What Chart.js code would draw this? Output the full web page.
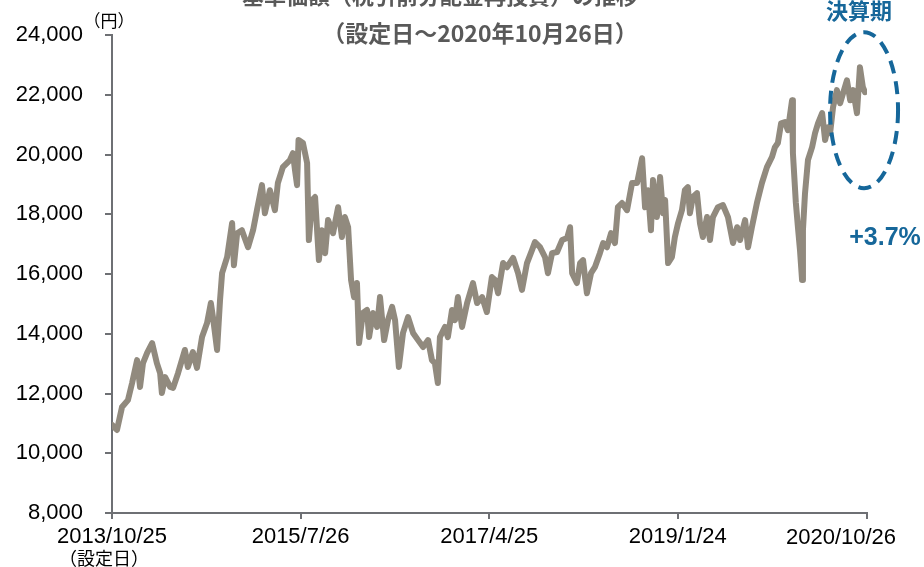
<!DOCTYPE html>
<html>
<head>
<meta charset="utf-8">
<script src="https://cdn.jsdelivr.net/npm/chart.js@4/dist/chart.umd.min.js"></script>
<style>
  body { margin: 0; background: #fff; }
  #wrap { width: 924px; height: 567px; }
</style>
</head>
<body>
<div id="wrap"><canvas id="nav-chart" width="924" height="567"></canvas></div>
<script>
// days since launch (2013/10/25) and NAV (yen)
const days = [
    0, 17, 34, 54, 68, 85, 95, 105, 119, 136, 152, 163, 169, 180, 197, 207, 224, 247, 257, 274,
    288, 305, 322, 335, 342, 356, 366, 373, 390, 407, 413, 424, 440, 461, 478, 491, 508, 518, 535, 552,
    562, 579, 603, 613, 620, 627, 632, 647, 661, 667, 678, 688, 701, 711, 722, 732, 749, 766, 779, 789,
    800, 810, 820, 830, 837, 850, 864, 871, 884, 898, 908, 922, 935, 949, 959, 972, 986, 1003, 1020, 1037,
    1054, 1071, 1084, 1094, 1104, 1111, 1128, 1138, 1152, 1162, 1172, 1186, 1203, 1223, 1237, 1254, 1270, 1287, 1298, 1308,
    1325, 1338, 1359, 1376, 1389, 1406, 1423, 1433, 1450, 1467, 1477, 1491, 1508, 1525, 1542, 1552, 1559, 1575, 1586, 1596,
    1609, 1623, 1636, 1653, 1664, 1677, 1691, 1704, 1714, 1728, 1745, 1762, 1779, 1796, 1806, 1816, 1826, 1833, 1846, 1857,
    1867, 1874, 1884, 1897, 1907, 1918, 1931, 1941, 1951, 1958, 1968, 1982, 1992, 2002, 2016, 2026, 2036, 2053, 2070, 2087,
    2104, 2118, 2128, 2145, 2155, 2168, 2185, 2202, 2219, 2236, 2246, 2256, 2267, 2280, 2290, 2304, 2307, 2317, 2324, 2331,
    2338, 2341, 2348, 2358, 2372, 2382, 2392, 2406, 2416, 2426, 2433, 2443, 2456, 2467, 2477, 2490, 2501, 2511, 2524, 2534,
    2544, 2551
];
const nav = [
    10950, 10780, 11550, 11780, 12350, 13120, 12220, 13020, 13360, 13690, 13020, 12690, 12020, 12550, 12220, 12190, 12690, 13460, 12890, 13390,
    12860, 13890, 14360, 15030, 14560, 13460, 15130, 16030, 16570, 17710, 16300, 17370, 17470, 16900, 17470, 18140, 18980, 18040, 18810, 18140,
    19050, 19580, 19820, 20050, 19480, 18980, 20490, 20390, 19720, 17140, 18480, 18580, 16470, 17470, 16700, 17810, 17370, 18240, 17240, 17910,
    17570, 15800, 15230, 15700, 13690, 14700, 14800, 13890, 14700, 14230, 15230, 13790, 14460, 14900, 14460, 12890, 14030, 14560, 14030, 13790,
    13560, 13790, 13120, 13020, 12350, 13890, 14230, 13890, 14800, 14460, 15230, 14230, 15030, 15700, 15030, 15230, 14730, 15900, 15800, 15360,
    16370, 16230, 16540, 16030, 15470, 16370, 16800, 17070, 16900, 16570, 16030, 16700, 16740, 17140, 17210, 17570, 16030, 15700, 16370, 16470,
    15360, 16030, 16230, 16700, 17040, 16900, 17370, 17040, 18240, 18380, 18140, 19050, 19050, 19880, 18240, 18810, 17470, 19150, 17910, 19250,
    18040, 18480, 16370, 16570, 17240, 17710, 18140, 18810, 18910, 18040, 18580, 18710, 17710, 17240, 17910, 17140, 17910, 18240, 18310, 17910,
    17040, 17570, 17140, 17810, 16900, 17570, 18380, 19050, 19580, 19920, 20250, 20390, 21050, 21090, 20820, 21820, 20050, 18380, 17570, 16800,
    15800, 17470, 18710, 19820, 20250, 20720, 21050, 21390, 20490, 20920, 20720, 21590, 22160, 21720, 22060, 22490, 21820, 22160, 21390, 22930,
    22260, 22090
];

const tickDays = [0, 639, 1278, 1917, 2558];
const tickLabels = ['2013/10/25', '2015/7/26', '2017/4/25', '2019/1/24', '2020/10/26'];

const titleText = '基準価額（税引前分配金再投資）の推移';
const subTitleText = '（設定日～2020年10月26日）';
const closingText = '決算期';
const changeText = '+3.7%';

const blue = '#16679a';
const axisGray = '#6e7074';
const cjk = "'Noto Sans CJK JP', sans-serif";
const latin = "'Liberation Sans', Arial, sans-serif";

Chart.defaults.font.family = latin;
Chart.defaults.color = '#000';

// texts and the dashed ring drawn on top of the chart
const notes = {
    id: 'notes',
    afterDraw(chart) {
        const ctx = chart.ctx;
        const xs = chart.scales.x;
        const ys = chart.scales.y;
        ctx.save();
        ctx.textAlign = 'center';

        ctx.fillStyle = '#595959';
        ctx.font = 'bold 22px ' + cjk;
        ctx.textBaseline = 'bottom';
        ctx.fillText(titleText, 440, 7);
        ctx.font = 'bold 23px ' + cjk;
        ctx.textBaseline = 'middle';
        ctx.fillText(subTitleText, 480, 33);

        ctx.fillStyle = '#000';
        ctx.font = '17px ' + cjk;
        ctx.fillText('（円）', 109, 21);
        ctx.font = '18px ' + cjk;
        ctx.fillText('（設定日）', 104, 558);

        // last date label sits left of its tick in the original
        ctx.font = '22px ' + latin;
        ctx.fillText(tickLabels[tickLabels.length - 1], 841, 538);

        ctx.fillStyle = blue;
        ctx.font = 'bold 22px ' + cjk;
        ctx.fillText(closingText, 859, 11);
        ctx.font = 'bold 25px ' + latin;
        ctx.fillText(changeText, 885, 238);

        ctx.strokeStyle = blue;
        ctx.lineWidth = 4;
        ctx.setLineDash([13, 8]);
        ctx.beginPath();
        ctx.ellipse(xs.getPixelForValue(2548), ys.getPixelForValue(21490), 34, 78, 0, 0, Math.PI * 2);
        ctx.stroke();
        ctx.restore();
    }
};

const ctx = document.getElementById('nav-chart').getContext('2d');
new Chart(ctx, {
    type: 'line',
    data: {
        datasets: [{
            data: days.map((d, i) => ({ x: d, y: nav[i] })),
            borderColor: '#918a7e',
            borderWidth: 6,
            borderJoinStyle: 'round',
            borderCapStyle: 'round',
            pointRadius: 0,
            tension: 0,
            fill: false
        }]
    },
    options: {
        responsive: false,
        animation: false,
        devicePixelRatio: 1,
        layout: { padding: { left: 0, right: 57, top: 35, bottom: 0 } },
        plugins: { legend: { display: false }, tooltip: { enabled: false } },
        scales: {
            x: {
                type: 'linear',
                min: 0,
                max: 2558,
                afterBuildTicks: (scale) => {
                    scale.ticks = tickDays.map(v => ({ value: v }));
                },
                afterFit: (scale) => { scale.height = 54; },
                ticks: {
                    autoSkip: false,
                    maxRotation: 0,
                    padding: 5,
                    font: { size: 22 },
                    // the last one is drawn by the notes plugin
                    callback: (value) => value === 2558 ? '' : tickLabels[tickDays.indexOf(value)]
                },
                grid: { drawOnChartArea: false, tickLength: 6, color: axisGray, lineWidth: 2 },
                border: { color: axisGray, width: 2 }
            },
            y: {
                min: 8000,
                max: 24000,
                afterFit: (scale) => { scale.width = 112; },
                ticks: {
                    stepSize: 2000,
                    padding: 22,
                    font: { size: 22 },
                    callback: (value) => value.toLocaleString('en-US')
                },
                grid: { drawOnChartArea: false, tickLength: 7, color: axisGray, lineWidth: 2 },
                border: { color: axisGray, width: 2 }
            }
        }
    },
    plugins: [notes]
});
</script>
</body>
</html>
